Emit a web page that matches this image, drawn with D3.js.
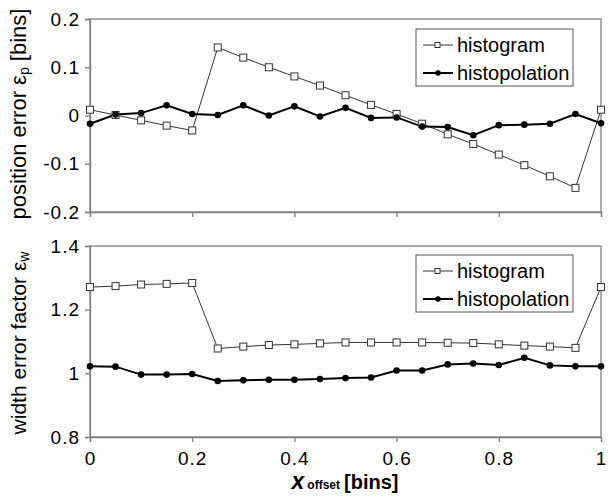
<!DOCTYPE html>
<html>
<head>
<meta charset="utf-8">
<script src="https://cdn.jsdelivr.net/npm/d3@7"></script>
<style>
  body { margin: 0; background: #fff; }
  svg { font-family: "Liberation Sans", Arial, sans-serif; }
</style>
</head>
<body>
<svg id="chart" width="612" height="504"></svg>
<script>
// x offsets in bins
const xOffset = [0, 0.05, 0.1, 0.15, 0.2, 0.25, 0.3, 0.35, 0.4, 0.45, 0.5,
                 0.55, 0.6, 0.65, 0.7, 0.75, 0.8, 0.85, 0.9, 0.95, 1];

// position error
const posHistogram = [0.012, 0.001, -0.010, -0.021, -0.031, 0.141, 0.120, 0.100, 0.081, 0.062, 0.042,
                      0.022, 0.003, -0.017, -0.039, -0.059, -0.081, -0.103, -0.126, -0.150, 0.012];
const posHistopolation = [-0.017, 0.002, 0.005, 0.021, 0.003, 0.001, 0.021, 0.000, 0.019, -0.002, 0.016,
                          -0.005, -0.004, -0.023, -0.024, -0.041, -0.020, -0.019, -0.017, 0.003, -0.016];

// width error factor
const widthHistogram = [1.271, 1.274, 1.279, 1.281, 1.284, 1.078, 1.084, 1.089, 1.091, 1.094, 1.097,
                        1.097, 1.097, 1.097, 1.096, 1.095, 1.091, 1.087, 1.084, 1.080, 1.271];
const widthHistopolation = [1.022, 1.021, 0.996, 0.996, 0.998, 0.976, 0.978, 0.980, 0.980, 0.982, 0.985,
                            0.987, 1.009, 1.009, 1.028, 1.031, 1.026, 1.049, 1.025, 1.022, 1.022];

const xTicks = [0, 0.2, 0.4, 0.6, 0.8, 1];
const posTicks = [-0.2, -0.1, 0, 0.1, 0.2];
const widthTicks = [0.8, 1, 1.2, 1.4];
const seriesNames = ["histogram", "histopolation"];

const svg = d3.select("#chart");
const axisColor = "#808080";
const tickFont = 19;

const x = d3.scaleLinear().domain([0, 1]).range([90, 601]);

function styleTicks(sel) {
  sel.select(".domain").attr("stroke", axisColor).attr("stroke-width", 1.3);
  sel.selectAll("line").attr("stroke", axisColor).attr("stroke-width", 1.3);
  sel.selectAll("text").attr("font-size", tickFont).attr("fill", "#000")
    .attr("letter-spacing", 1)
    .attr("font-family", "Liberation Sans, Arial, sans-serif");
}

function panel(top, bottom, domain, ticks, hist, histo, legendTop, showXLabels) {
  const y = d3.scaleLinear().domain(domain).range([bottom, top]);
  const g = svg.append("g");

  // frame
  g.append("rect")
    .attr("x", x.range()[0]).attr("y", top)
    .attr("width", x.range()[1] - x.range()[0]).attr("height", bottom - top)
    .attr("fill", "none").attr("stroke", axisColor).attr("stroke-width", 1.3);

  const yAxis = g.append("g")
    .attr("transform", `translate(${x.range()[0]},0)`)
    .call(d3.axisLeft(y).tickValues(ticks).tickSize(5).tickPadding(5)
      .tickFormat(d => String(+d.toFixed(2))));
  styleTicks(yAxis);

  const xAxis = g.append("g")
    .attr("transform", `translate(0,${bottom})`)
    .call(d3.axisBottom(x).tickValues(xTicks).tickSize(5).tickPadding(10)
      .tickFormat(d => showXLabels ? String(d) : ""));
  styleTicks(xAxis);

  const line = d3.line().x((d, i) => x(xOffset[i])).y(d => y(d));

  g.append("path").datum(hist).attr("d", line)
    .attr("fill", "none").attr("stroke", "#333").attr("stroke-width", 1);
  g.append("path").datum(histo).attr("d", line)
    .attr("fill", "none").attr("stroke", "#000").attr("stroke-width", 2);

  g.selectAll(".sq").data(hist).enter().append("rect")
    .attr("x", (d, i) => x(xOffset[i]) - 3.5).attr("y", d => y(d) - 3.5)
    .attr("width", 7).attr("height", 7)
    .attr("fill", "#fff").attr("stroke", "#333").attr("stroke-width", 1);
  g.selectAll(".dot").data(histo).enter().append("circle")
    .attr("cx", (d, i) => x(xOffset[i])).attr("cy", d => y(d)).attr("r", 3.3)
    .attr("fill", "#000");

  // legend
  const lg = g.append("g").attr("transform", `translate(416,${legendTop})`);
  lg.append("rect").attr("width", 157).attr("height", 57)
    .attr("fill", "#fff").attr("stroke", "#555").attr("stroke-width", 1);
  seriesNames.forEach((name, i) => {
    const ly = 16 + i * 28;
    lg.append("line").attr("x1", 7).attr("x2", 37).attr("y1", ly).attr("y2", ly)
      .attr("stroke", i === 0 ? "#333" : "#000").attr("stroke-width", i === 0 ? 1 : 2);
    if (i === 0) {
      lg.append("rect").attr("x", 19).attr("y", ly - 2.5).attr("width", 5).attr("height", 5)
        .attr("fill", "#fff").attr("stroke", "#333").attr("stroke-width", 1);
    } else {
      lg.append("circle").attr("cx", 22).attr("cy", ly).attr("r", 2.8).attr("fill", "#000");
    }
    lg.append("text").attr("x", 41).attr("y", ly + 7).attr("font-size", 20).text(name);
  });
  return y;
}

panel(19, 212, [-0.2, 0.2], posTicks, posHistogram, posHistopolation, 29, false);
panel(246, 437, [0.8, 1.4], widthTicks, widthHistogram, widthHistopolation, 255, true);

// y axis titles
const t1 = svg.append("text")
  .attr("transform", "translate(26,114) rotate(-90)")
  .attr("text-anchor", "middle").attr("font-size", 22);
t1.append("tspan").text("position error ε");
t1.append("tspan").attr("font-size", 14).attr("dy", 3).text("p");
t1.append("tspan").attr("dy", -3).text(" [bins]");

const t2 = svg.append("text")
  .attr("transform", "translate(26,343) rotate(-90)")
  .attr("text-anchor", "middle").attr("font-size", 21);
t2.append("tspan").text("width error factor ε");
t2.append("tspan").attr("font-size", 14).attr("dy", 3).text("w");

// x axis title
const xt = svg.append("text")
  .attr("x", 345).attr("y", 489)
  .attr("text-anchor", "middle").attr("font-weight", "bold").attr("font-size", 20);
xt.append("tspan").attr("font-style", "italic").attr("font-size", 23).text("x");
xt.append("tspan").attr("font-size", 12).attr("dx", 3).text("offset");
xt.append("tspan").attr("dx", 4).text("[bins]");
</script>
</body>
</html>
